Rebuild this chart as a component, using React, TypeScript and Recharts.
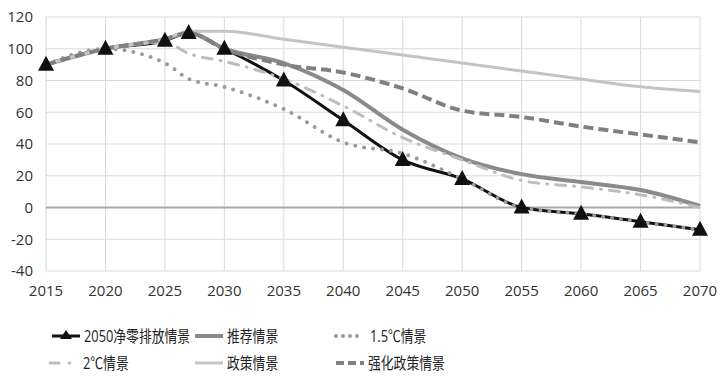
import React from 'react';
import { LineChart, Line, XAxis, YAxis, CartesianGrid, ReferenceLine } from 'recharts';

const years = [2015, 2020, 2025, 2027, 2030, 2035, 2040, 2045, 2050, 2055, 2060, 2065, 2070];

const netZero = [90, 100, 105, 110, 100, 80, 55, 30, 18, 0, -4, -9, -14];
const recommended = [90, 100, 106, 110, 100, 91, 74, 49, 31, 21, 16, 11, 1];
const deg15 = [90, 100, 91, 81, 76, 62, 41, 34, 18, 0, -4, -9, -14];
const deg2 = [90, 100, 104, 97, 92, 81, 64, 44, 30, 17, 13, 8, 0];
const policy = [90, 100, 106, 111, 111, 106, 101, 96, 91, 86, 81, 76, 73];
const enhanced = [90, 100, 106, 110, 100, 90, 85, 75, 61, 57, 51, 46, 41];

const xTicks = [2015, 2020, 2025, 2030, 2035, 2040, 2045, 2050, 2055, 2060, 2065, 2070];
const yTicks = [-40, -20, 0, 20, 40, 60, 80, 100, 120];

const seriesNames = ['2050净零排放情景', '推荐情景', '1.5℃情景', '2℃情景', '政策情景', '强化政策情景'];

const data = years.map((y, i) => ({
  year: y,
  netZero: netZero[i],
  recommended: recommended[i],
  deg15: deg15[i],
  deg2: deg2[i],
  policy: policy[i],
  enhanced: enhanced[i],
}));

const FONT = '"Open Sans", "Noto Sans CJK SC", sans-serif';

const Triangle = (props: any) => {
  const { cx, cy } = props;
  if (cx == null || cy == null) return null;
  return <path d={`M${cx},${cy - 9} L${cx + 8},${cy + 6} L${cx - 8},${cy + 6} Z`} fill="#111" />;
};

// legend icons, same styles as series
const LegendIcon = ({ idx }: { idx: number }) => {
  const w = idx === 2 || idx === 3 ? 26 : 32;
  const line = (props: any) => <line x1={2} y1={8} x2={w - 2} y2={8} {...props} />;
  return (
    <svg width={w} height={16} style={{ display: 'block' }}>
      {idx === 0 && (
        <>
          {line({ stroke: '#111', strokeWidth: 3 })}
          <path d="M16,2 L22,11 L10,11 Z" fill="#111" />
        </>
      )}
      {idx === 1 && line({ stroke: '#8a8a8a', strokeWidth: 4 })}
      {idx === 2 && line({ stroke: '#9a9a9a', strokeWidth: 4, strokeDasharray: '0 7', strokeLinecap: 'round' })}
      {idx === 3 && line({ stroke: '#bdbdbd', strokeWidth: 3, strokeDasharray: '9 10 1 10', strokeLinecap: 'round' })}
      {idx === 4 && line({ stroke: '#c4c4c4', strokeWidth: 3 })}
      {idx === 5 && line({ stroke: '#808080', strokeWidth: 4, strokeDasharray: '8 4' })}
    </svg>
  );
};

const legendPos = [
  { left: 50, top: 327 },
  { left: 193, top: 327 },
  { left: 334, top: 327 },
  { left: 48, top: 354 },
  { left: 193, top: 354 },
  { left: 334, top: 354 },
];

export default function App() {
  return (
    <div style={{ position: 'absolute', left: 0, top: 0, width: 723, height: 385, background: '#fff' }}>
      <LineChart width={723} height={385} data={data} margin={{ top: 17, right: 23, bottom: 84, left: 0 }}>
        <CartesianGrid stroke="#d9d9d9" strokeWidth={1} />
        <XAxis
          dataKey="year"
          type="number"
          domain={[2015, 2070]}
          ticks={xTicks}
          tickLine={false}
          axisLine={false}
          tickSize={0}
          tickMargin={14}
          height={30}
          tick={{ fill: '#333', fontSize: 15, fontFamily: FONT }}
        />
        <YAxis
          domain={[-40, 120]}
          ticks={yTicks}
          width={46}
          tickLine={false}
          axisLine={false}
          tickSize={0}
          tickMargin={13}
          tick={{ fill: '#333', fontSize: 15, fontFamily: FONT }}
        />
        <ReferenceLine y={0} stroke="#a8a8a8" strokeWidth={2} />
        <Line dataKey="netZero" type="monotone" stroke="#111" strokeWidth={3} dot={<Triangle />} isAnimationActive={false} />
        <Line dataKey="recommended" type="monotone" stroke="#8a8a8a" strokeWidth={4} dot={false} isAnimationActive={false} />
        <Line dataKey="deg15" type="monotone" stroke="#9a9a9a" strokeWidth={4} strokeDasharray="0 9" strokeLinecap="round" dot={false} isAnimationActive={false} />
        <Line dataKey="deg2" type="monotone" stroke="#bdbdbd" strokeWidth={3} strokeDasharray="10 8 1 8" strokeLinecap="round" dot={false} isAnimationActive={false} />
        <Line dataKey="policy" type="monotone" stroke="#c4c4c4" strokeWidth={3} dot={false} isAnimationActive={false} />
        <Line dataKey="enhanced" type="monotone" stroke="#808080" strokeWidth={4} strokeDasharray="10 5" dot={false} isAnimationActive={false} />
      </LineChart>
      {seriesNames.map((name, i) => (
        <div
          key={name}
          style={{
            position: 'absolute',
            left: legendPos[i].left,
            top: legendPos[i].top,
            display: 'flex',
            alignItems: 'center',
            fontFamily: FONT,
            fontSize: 16,
            color: '#222',
            whiteSpace: 'nowrap',
            lineHeight: '18px',
          }}
        >
          <LegendIcon idx={i} />
          <span
            style={{
              marginLeft: i === 2 ? 10 : i === 3 ? 9 : 2,
              display: 'inline-block',
              transform: 'scaleX(0.8)',
              transformOrigin: 'left center',
            }}
          >
            {name}
          </span>
        </div>
      ))}
    </div>
  );
}
